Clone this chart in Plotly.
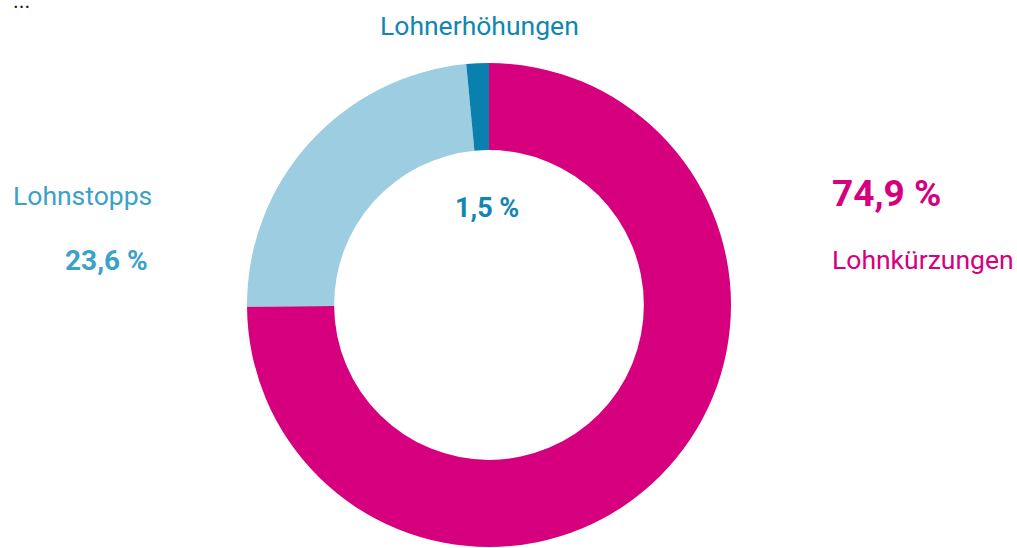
import plotly.graph_objects as go

categories = ["Lohnkürzungen", "Lohnstopps", "Lohnerhöhungen"]
values = [74.9, 23.6, 1.5]
value_labels = ["74,9 %", "23,6 %", "1,5 %"]
slice_colors = ["#D6007E", "#9CCDE0", "#0A80AE"]

W, H = 1017, 548
FONT = "Roboto, Liberation Sans, sans-serif"

def px(x):
    return x / W

def py(y):
    return 1 - y / H

cx, cy, r = 489, 305, 242

fig = go.Figure(go.Pie(
    labels=categories,
    values=values,
    hole=0.64,
    sort=False,
    direction="clockwise",
    rotation=0,
    marker=dict(colors=slice_colors, line=dict(width=0)),
    textinfo="none",
    hoverinfo="label+percent",
    showlegend=False,
    domain=dict(x=[px(cx - r), px(cx + r)], y=[py(cy + r), py(cy - r)]),
))

ann = [
    # (text, x_left, y_center, size, color, bold)
    ("...", 11, 0, 22, "#222222", False),
    (categories[2], 378, 25, 26.5, "#1185B4", False),
    (categories[1], 11, 195, 26.5, "#3BA1C9", False),
    (value_labels[1], 63, 260, 28, "#3BA1C9", True),
    (value_labels[0], 830, 193, 37, "#D6007E", True),
    (categories[0], 830, 259, 26.5, "#D6007E", False),
    (value_labels[2], 453, 208, 27, "#1185B4", True),
]

for text, x, y, size, color, bold in ann:
    fig.add_annotation(
        text=f"<b>{text}</b>" if bold else text,
        x=px(x), y=py(y), xref="paper", yref="paper",
        xanchor="left", yanchor="middle",
        showarrow=False,
        font=dict(family=FONT, size=size, color=color),
    )

fig.update_layout(
    width=W, height=H,
    margin=dict(l=0, r=0, t=0, b=0),
    paper_bgcolor="white",
    plot_bgcolor="white",
)

fig.write_html("out.html", config={"displayModeBar": False},
               post_script="document.body.style.margin='0';")
